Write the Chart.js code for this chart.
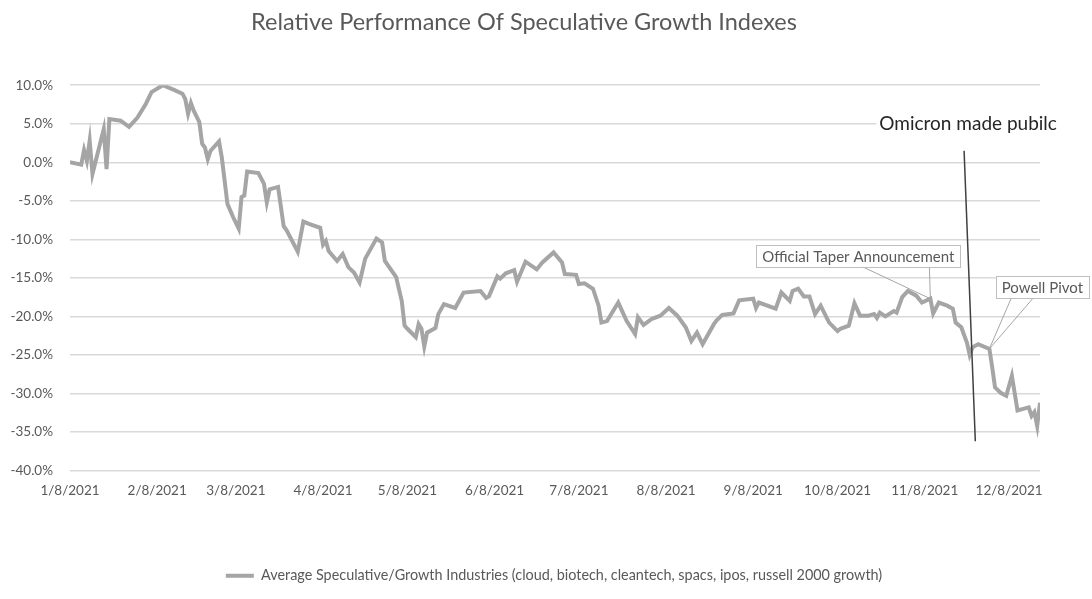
<!DOCTYPE html>
<html>
<head>
<meta charset="utf-8">
<script src="https://cdn.jsdelivr.net/npm/chart.js@4.4.1/dist/chart.umd.min.js"></script>
<style>
  html, body { margin: 0; padding: 0; background: #fff; }
</style>
</head>
<body>
<canvas id="chart" width="1092" height="599"></canvas>
<script>
// 2021 dates (m/d) and relative performance in %
const dates = [
  '1/8','1/12','1/13','1/14','1/15','1/16','1/20','1/21','1/22','1/26','1/29',
  '2/1','2/4','2/6','2/10','2/14','2/17','2/18','2/19','2/20','2/21','2/23','2/24','2/25','2/26','2/27',
  '3/2','3/3','3/5','3/7','3/9','3/10','3/11','3/12','3/16','3/18','3/19','3/20','3/23','3/25','3/26','3/30',
  '4/1','4/3','4/7','4/8','4/9','4/10','4/13','4/15','4/17','4/19','4/21','4/23','4/27','4/29','4/30',
  '5/4','5/6','5/7','5/8','5/11','5/12','5/13','5/14','5/15','5/18','5/19','5/21','5/25','5/28',
  '6/3','6/5','6/6','6/9','6/10','6/12','6/15','6/16','6/19','6/23','6/25','6/29',
  '7/2','7/3','7/7','7/8','7/10','7/13','7/15','7/16','7/18','7/22','7/25','7/28','7/29','7/31',
  '8/3','8/6','8/9','8/12','8/15','8/17','8/19','8/21','8/25','8/26','8/28',
  '9/1','9/3','9/8','9/9','9/10','9/16','9/18','9/21','9/22','9/24','9/26','9/28','9/30',
  '10/2','10/5','10/8','10/9','10/12','10/14','10/16','10/19','10/21','10/22','10/23','10/25','10/28','10/29','10/31',
  '11/2','11/5','11/7','11/10','11/11','11/13','11/16','11/18','11/19','11/21','11/23','11/24','11/25','11/27',
  '12/1','12/2','12/3','12/5','12/7','12/9','12/11','12/13','12/15','12/16','12/17','12/18','12/19'
];
const values = [
  0.0,-0.3,1.6,0.2,2.8,-1.5,4.3,-0.9,5.6,5.4,4.6,
  5.8,7.6,9.1,10.0,9.4,8.9,8.2,6.3,7.7,6.7,5.2,2.4,1.9,0.4,1.5,
  2.7,0.6,-5.4,-7.1,-8.6,-4.5,-4.3,-1.2,-1.4,-2.8,-5.2,-3.5,-3.2,-8.3,-8.8,-11.6,
  -7.7,-8.0,-8.5,-10.7,-10.2,-11.5,-12.8,-11.9,-13.6,-14.3,-15.6,-12.5,-9.9,-10.4,-12.8,
  -14.9,-18.0,-21.2,-21.6,-22.7,-21.0,-21.6,-23.9,-22.1,-21.5,-19.7,-18.4,-18.9,-16.9,
  -16.7,-17.6,-17.4,-14.8,-15.1,-14.4,-14.0,-15.5,-12.9,-13.9,-13.0,-11.7,
  -13.0,-14.5,-14.6,-15.8,-15.7,-16.4,-18.6,-20.8,-20.6,-18.2,-20.6,-22.3,-20.1,-21.1,
  -20.3,-19.9,-18.9,-19.9,-21.4,-23.2,-22.1,-23.6,-21.0,-20.5,-19.8,
  -19.6,-17.9,-17.7,-18.9,-18.2,-19.0,-16.9,-18.0,-16.7,-16.4,-17.4,-17.4,-19.7,
  -18.6,-20.8,-21.9,-21.6,-21.2,-18.3,-19.9,-19.9,-19.7,-20.2,-19.5,-20.0,-19.3,-19.5,-17.5,
  -16.7,-17.3,-18.2,-17.7,-19.6,-18.2,-18.6,-19.0,-20.8,-21.4,-23.4,-25.0,-24.0,-23.6,
  -24.2,-26.6,-29.2,-29.9,-30.3,-27.7,-32.2,-32.0,-31.8,-32.9,-32.4,-34.2,-31.2
];
const tickLabels = ['1/8/2021','2/8/2021','3/8/2021','4/8/2021','5/8/2021','6/8/2021',
  '7/8/2021','8/8/2021','9/8/2021','10/8/2021','11/8/2021','12/8/2021'];
const seriesName = 'Average Speculative/Growth Industries (cloud, biotech, cleantech, spacs, ipos, russell 2000 growth)';

// events marked on the chart
const eventNotes = [
  { text: 'Official Taper Announcement', date: '11/10' },
  { text: 'Powell Pivot', date: '12/1' }
];
const omicron = { text: 'Omicron made pubilc', from: ['11/22', 1.5], to: ['11/26', -36.2] };

const FONT = 'Lato, "Noto Sans", sans-serif';
const GREY_TEXT = '#595959';

// days since 1/8/2021
function dayOf(s) {
  const p = s.split('/').map(Number);
  return (Date.UTC(2021, p[0] - 1, p[1]) - Date.UTC(2021, 0, 8)) / 86400000;
}

const points = dates.map((d, i) => ({ x: dayOf(d), y: values[i] }));
const tickDays = tickLabels.map(dayOf);

// callout boxes: centre offset from the point, leader start offsets on the box bottom
const calloutLayout = {
  'Official Taper Announcement': { dx: -72, dy: -43, legs: [-68, -1] },
  'Powell Pivot': { dx: 53, dy: -62, legs: [22, 44] }
};

const annotate = {
  id: 'annotate',
  afterUpdate(chart) {
    // legend sits a little right of centre
    chart.legend.left += 30;
    chart.legend.right += 30;
  },
  afterDatasetsDraw(chart) {
    const { ctx, scales: { x, y } } = chart;
    const meta = chart.getDatasetMeta(0);
    ctx.save();
    ctx.font = '15px ' + FONT;
    ctx.textAlign = 'center';
    ctx.textBaseline = 'middle';

    eventNotes.forEach(n => {
      const pt = meta.data[dates.indexOf(n.date)];
      const lay = calloutLayout[n.text];
      const w = ctx.measureText(n.text).width + 12, h = 22;
      const cx = pt.x + lay.dx, cy = pt.y + lay.dy;
      const bottom = cy + h / 2;
      ctx.strokeStyle = '#a6a6a6';
      ctx.lineWidth = 1;
      ctx.beginPath();
      lay.legs.forEach(l => { ctx.moveTo(pt.x + l, bottom); ctx.lineTo(pt.x, pt.y); });
      ctx.stroke();
      ctx.fillStyle = '#fff';
      ctx.fillRect(cx - w / 2, cy - h / 2, w, h);
      ctx.strokeStyle = '#bfbfbf';
      ctx.strokeRect(Math.round(cx - w / 2) + 0.5, Math.round(cy - h / 2) + 0.5, Math.round(w), h);
      ctx.fillStyle = GREY_TEXT;
      ctx.fillText(n.text, cx, cy + 1);
    });

    // omicron marker line and its label
    const x1 = x.getPixelForValue(dayOf(omicron.from[0])), y1 = y.getPixelForValue(omicron.from[1]);
    const x2 = x.getPixelForValue(dayOf(omicron.to[0])), y2 = y.getPixelForValue(omicron.to[1]);
    ctx.strokeStyle = '#404040';
    ctx.lineWidth = 1.5;
    ctx.beginPath();
    ctx.moveTo(x1, y1);
    ctx.lineTo(x2, y2);
    ctx.stroke();

    ctx.font = '19px ' + FONT;
    const tw = ctx.measureText(omicron.text).width;
    const tx = x1 + 4, ty = y1 - 27;
    ctx.fillStyle = '#fff';
    ctx.fillRect(tx - tw / 2 - 3, ty - 12, tw + 6, 24);
    ctx.fillStyle = '#262626';
    ctx.fillText(omicron.text, tx, ty);
    ctx.restore();
  }
};

new Chart(document.getElementById('chart'), {
  type: 'line',
  data: {
    datasets: [{
      label: seriesName,
      data: points,
      borderColor: '#a5a5a5',
      backgroundColor: '#a5a5a5',
      borderWidth: 4,
      pointRadius: 0,
      tension: 0
    }]
  },
  options: {
    responsive: false,
    animation: false,
    devicePixelRatio: 1,
    layout: { padding: { left: 8, right: 52, top: 0, bottom: 6 } },
    scales: {
      x: {
        type: 'linear',
        min: 0,
        max: points[points.length - 1].x,
        grid: { display: false, drawTicks: false },
        border: { display: false },
        afterBuildTicks(axis) { axis.ticks = tickDays.map(v => ({ value: v })); },
        afterFit(axis) { axis.height = 88; },
        ticks: {
          autoSkip: false,
          maxRotation: 0,
          padding: 12,
          color: GREY_TEXT,
          font: { family: FONT, size: 13.5 },
          callback: v => tickLabels[tickDays.indexOf(v)]
        }
      },
      y: {
        min: -40,
        max: 10,
        grid: { color: '#d9d9d9', lineWidth: 1.5, drawTicks: false },
        border: { display: false },
        afterFit(axis) { axis.width = 62; },
        ticks: {
          stepSize: 5,
          padding: 17,
          color: GREY_TEXT,
          font: { family: FONT, size: 13.5 },
          callback: v => v.toFixed(1) + '%'
        }
      }
    },
    plugins: {
      title: {
        display: true,
        text: 'Relative Performance Of Speculative Growth Indexes',
        color: GREY_TEXT,
        font: { family: FONT, size: 23.5, weight: 'normal' },
        padding: { top: 8, bottom: 49 }
      },
      legend: {
        position: 'bottom',
        labels: {
          usePointStyle: true,
          pointStyle: 'line',
          pointStyleWidth: 28,
          color: GREY_TEXT,
          font: { family: FONT, size: 14.4 }
        }
      },
      tooltip: { enabled: false }
    }
  },
  plugins: [annotate]
});
</script>
</body>
</html>
